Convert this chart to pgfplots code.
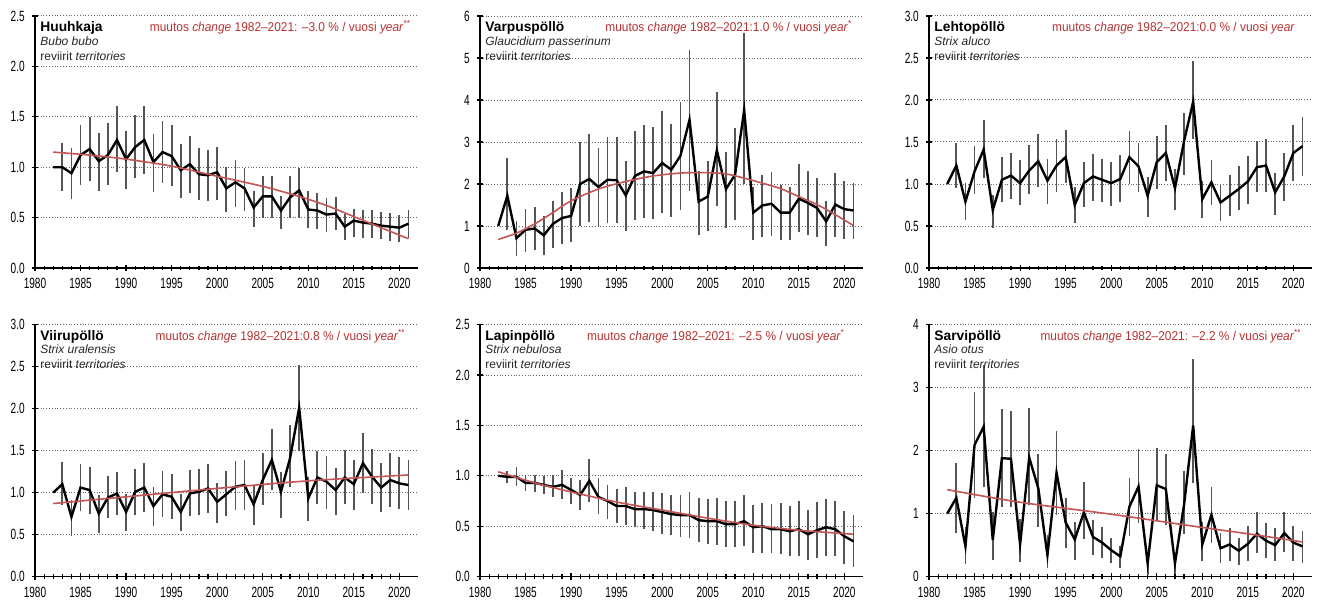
\documentclass[border=0pt]{standalone}
\usepackage{fontspec}
\setmainfont{Liberation Sans}
\newfontfamily\narrow{Liberation Sans}[FakeStretch=0.68]
\newfontfamily\redfont{Liberation Sans}[FakeStretch=0.93]
\usepackage{pgfplots}
\usepackage{pgfplotstable}
\pgfplotsset{compat=1.18}

\definecolor{trend}{RGB}{195,85,85}
\definecolor{redtxt}{RGB}{180,50,50}
\definecolor{ebar}{RGB}{85,85,85}

\pgfplotstableread{
yr v lo hi
1982 1.00 1.00 1.00
1983 1.00 0.76 1.24
1984 0.94 0.68 1.19
1985 1.12 0.82 1.42
1986 1.18 0.86 1.50
1987 1.06 0.76 1.34
1988 1.12 0.82 1.44
1989 1.27 0.95 1.61
1990 1.08 0.78 1.36
1991 1.20 0.89 1.52
1992 1.27 0.93 1.61
1993 1.05 0.75 1.33
1994 1.15 0.84 1.46
1995 1.11 0.81 1.42
1996 0.97 0.69 1.23
1997 1.03 0.74 1.31
1998 0.93 0.67 1.19
1999 0.92 0.66 1.17
2000 0.95 0.67 1.20
2001 0.79 0.56 1.00
2002 0.85 0.61 1.07
2003 0.79 0.57 0.99
2004 0.60 0.41 0.76
2005 0.71 0.50 0.91
2006 0.71 0.50 0.91
2007 0.57 0.39 0.71
2008 0.70 0.50 0.91
2009 0.77 0.50 0.99
2010 0.58 0.40 0.76
2011 0.57 0.39 0.74
2012 0.53 0.36 0.69
2013 0.54 0.38 0.70
2014 0.41 0.28 0.54
2015 0.47 0.31 0.59
2016 0.45 0.30 0.58
2017 0.44 0.30 0.58
2018 0.42 0.29 0.56
2019 0.41 0.27 0.55
2020 0.40 0.26 0.53
2021 0.44 0.30 0.58
}\tH

\pgfplotstableread{
yr v lo hi
1982 1.00 1.00 1.00
1983 1.72 0.91 2.63
1984 0.71 0.28 1.12
1985 0.91 0.37 1.41
1986 0.94 0.42 1.45
1987 0.78 0.32 1.23
1988 1.05 0.48 1.60
1989 1.19 0.57 1.81
1990 1.24 0.62 1.90
1991 2.00 1.01 3.01
1992 2.12 1.09 3.19
1993 1.93 0.99 2.85
1994 2.10 1.07 3.13
1995 2.09 1.07 3.11
1996 1.73 0.87 2.55
1997 2.19 1.15 3.27
1998 2.30 1.19 3.41
1999 2.26 1.17 3.36
2000 2.50 1.31 3.74
2001 2.34 1.21 3.43
2002 2.67 1.39 3.96
2003 3.53 1.84 5.19
2004 1.58 0.79 2.32
2005 1.70 0.87 2.55
2006 2.80 1.48 4.20
2007 1.88 0.95 2.76
2008 2.22 1.15 3.33
2009 3.76 2.00 5.59
2010 1.32 0.66 1.94
2011 1.49 0.74 2.22
2012 1.53 0.77 2.28
2013 1.32 0.66 1.98
2014 1.32 0.66 1.94
2015 1.65 0.85 2.48
2016 1.55 0.79 2.30
2017 1.43 0.73 2.14
2018 1.11 0.53 1.60
2019 1.51 0.75 2.26
2020 1.40 0.70 2.08
2021 1.37 0.69 2.02
}\tV

\pgfplotstableread{
yr v lo hi
1982 1.00 1.00 1.00
1983 1.22 0.95 1.49
1984 0.79 0.57 1.01
1985 1.15 0.88 1.45
1986 1.41 1.07 1.76
1987 0.69 0.48 0.87
1988 1.05 0.78 1.32
1989 1.10 0.82 1.37
1990 1.01 0.75 1.28
1991 1.16 0.88 1.46
1992 1.27 0.97 1.59
1993 1.04 0.76 1.30
1994 1.22 0.91 1.53
1995 1.32 1.01 1.64
1996 0.75 0.54 0.96
1997 1.01 0.73 1.26
1998 1.09 0.80 1.36
1999 1.05 0.78 1.30
2000 1.01 0.74 1.26
2001 1.06 0.79 1.34
2002 1.32 1.00 1.63
2003 1.21 0.90 1.49
2004 0.86 0.61 1.08
2005 1.26 0.94 1.57
2006 1.37 1.03 1.70
2007 0.95 0.69 1.18
2008 1.51 1.11 1.84
2009 1.98 1.53 2.46
2010 0.82 0.59 1.03
2011 1.02 0.75 1.29
2012 0.78 0.56 0.99
2013 0.86 0.62 1.11
2014 0.94 0.69 1.21
2015 1.03 0.76 1.33
2016 1.20 0.90 1.51
2017 1.22 0.91 1.54
2018 0.90 0.63 1.13
2019 1.09 0.80 1.37
2020 1.37 1.03 1.70
2021 1.45 1.10 1.80
}\tL

\pgfplotstableread{
yr v lo hi
1982 1.00 1.00 1.00
1983 1.10 0.85 1.36
1984 0.71 0.48 0.91
1985 1.06 0.78 1.34
1986 1.03 0.75 1.30
1987 0.75 0.52 0.97
1988 0.94 0.70 1.20
1989 0.99 0.73 1.25
1990 0.77 0.54 0.98
1991 1.01 0.73 1.28
1992 1.06 0.77 1.35
1993 0.84 0.60 1.07
1994 0.98 0.71 1.26
1995 0.95 0.69 1.22
1996 0.77 0.54 0.98
1997 0.99 0.72 1.27
1998 1.01 0.73 1.28
1999 1.05 0.76 1.34
2000 0.89 0.64 1.12
2001 0.98 0.72 1.26
2002 1.07 0.79 1.38
2003 1.09 0.79 1.39
2004 0.86 0.62 1.09
2005 1.15 0.85 1.47
2006 1.39 1.03 1.76
2007 1.01 0.70 1.24
2008 1.41 1.07 1.80
2009 2.01 1.49 2.52
2010 0.93 0.66 1.18
2011 1.18 0.87 1.50
2012 1.13 0.81 1.43
2013 1.03 0.73 1.29
2014 1.18 0.87 1.51
2015 1.10 0.79 1.39
2016 1.35 0.99 1.71
2017 1.19 0.86 1.52
2018 1.06 0.77 1.35
2019 1.15 0.83 1.47
2020 1.11 0.81 1.42
2021 1.09 0.79 1.39
}\tU

\pgfplotstableread{
yr v lo hi
1982 1.00 1.00 1.00
1983 0.99 0.93 1.05
1984 0.99 0.90 1.09
1985 0.93 0.85 1.01
1986 0.93 0.84 1.01
1987 0.91 0.82 1.00
1988 0.89 0.79 1.01
1989 0.91 0.77 1.06
1990 0.86 0.72 0.98
1991 0.81 0.66 0.96
1992 0.95 0.74 1.17
1993 0.79 0.62 0.98
1994 0.75 0.57 0.91
1995 0.70 0.53 0.87
1996 0.70 0.51 0.89
1997 0.67 0.49 0.84
1998 0.67 0.47 0.84
1999 0.66 0.45 0.84
2000 0.64 0.42 0.83
2001 0.62 0.41 0.81
2002 0.61 0.39 0.81
2003 0.61 0.38 0.84
2004 0.56 0.34 0.78
2005 0.55 0.32 0.77
2006 0.55 0.31 0.78
2007 0.52 0.29 0.75
2008 0.52 0.29 0.75
2009 0.55 0.30 0.81
2010 0.49 0.23 0.71
2011 0.50 0.23 0.73
2012 0.47 0.23 0.72
2013 0.47 0.22 0.73
2014 0.45 0.20 0.70
2015 0.47 0.20 0.75
2016 0.42 0.16 0.66
2017 0.46 0.18 0.74
2018 0.49 0.20 0.77
2019 0.47 0.20 0.75
2020 0.40 0.13 0.65
2021 0.35 0.10 0.61
}\tN

\pgfplotstableread{
yr v lo hi
1982 1.00 1.00 1.00
1983 1.25 0.70 1.81
1984 0.48 0.20 0.78
1985 2.09 1.25 2.93
1986 2.38 1.43 3.36
1987 0.58 0.26 1.03
1988 1.88 1.11 2.66
1989 1.87 1.10 2.63
1990 0.51 0.23 0.92
1991 1.89 1.14 2.67
1992 1.40 0.78 1.94
1993 0.34 0.13 0.66
1994 1.65 0.97 2.31
1995 0.86 0.46 1.24
1996 0.59 0.26 0.86
1997 1.02 0.60 1.50
1998 0.63 0.34 0.90
1999 0.54 0.29 0.79
2000 0.42 0.21 0.61
2001 0.32 0.13 0.48
2002 1.11 0.64 1.57
2003 1.43 0.85 2.03
2004 0.21 0.03 0.37
2005 1.45 0.88 2.04
2006 1.39 0.82 1.94
2007 0.21 0.04 0.37
2008 1.14 0.67 1.68
2009 2.40 1.48 3.46
2010 0.51 0.24 0.87
2011 0.98 0.54 1.43
2012 0.45 0.21 0.70
2013 0.51 0.24 0.77
2014 0.41 0.18 0.61
2015 0.52 0.24 0.80
2016 0.68 0.37 1.02
2017 0.57 0.30 0.85
2018 0.50 0.25 0.77
2019 0.69 0.39 1.02
2020 0.54 0.24 0.80
2021 0.48 0.21 0.72
}\tS

\pgfplotsset{
  owl/.style={
    scale only axis, width=191.3pt, height=126pt,
    xmin=1980, xmax=2022, ymin=0,
    axis x line*=bottom, axis y line*=left,
    axis line style={-, black, line width=0.8pt},
    xtick={1980,1985,...,2020}, minor x tick num=4,
    ymajorgrids, grid style={densely dotted, black!60, line width=0.5pt},
    major tick length=3.2pt, minor tick length=2.4pt, tick align=center,
    tick style={black, line width=0.6pt},
    ticklabel style={font=\narrow\fontsize{7.4}{8}\selectfont},
    /pgf/number format/assume math mode=true,
    xticklabel style={/pgf/number format/1000 sep={}},
    clip=false,
  },
  dec/.style={yticklabel style={/pgf/number format/.cd, fixed, fixed zerofill, precision=1}},
  ebars/.style={draw=none, mark=none, forget plot,
    error bars/.cd, y dir=both, y explicit, error mark=none,
    error bar style={draw=ebar, solid, line width=0.9pt}},
  mainline/.style={black, line width=1.2pt, mark=none},
  trendline/.style={trend, line width=0.8pt, mark=none, smooth},
}

\newcommand{\owltext}[4]{%
  \node[anchor=base west, inner sep=0, xshift=2.5pt, yshift=-7.8pt,
        font=\bfseries\fontsize{6.9}{8}\selectfont] at (rel axis cs:0,1) {#1};
  \node[anchor=base west, inner sep=0, xshift=2.5pt, yshift=-14.5pt,
        font=\itshape\fontsize{6.0}{7}\selectfont, text=black!85] at (rel axis cs:0,1) {#2};
  \node[anchor=base west, inner sep=0, xshift=2.5pt, yshift=-22pt,
        font=\fontsize{6.0}{7}\selectfont, text=black!85] at (rel axis cs:0,1) {reviirit \textit{territories}};
  \node[anchor=base east, inner sep=0, yshift=-7.8pt,
        font=\redfont\fontsize{6.4}{7}\selectfont, text=redtxt] at (rel axis cs:#4,1) {#3};
}

\newcommand{\errplot}[1]{%
  \addplot[ebars] table[x=yr, y=v,
     y error plus expr=\thisrow{hi}-\thisrow{v},
     y error minus expr=\thisrow{v}-\thisrow{lo}] {#1};
  \addplot[mainline] table[x=yr, y=v] {#1};
}

\begin{document}
\begin{tikzpicture}
\useasboundingbox (0,0) rectangle (661.5pt,300.5pt);

% ---- Huuhkaja
\begin{axis}[owl, dec, at={(17.5pt,166.5pt)}, anchor=south west,
  ymax=2.5, ytick={0,0.5,...,2.5}]
\errplot{\tH}
\addplot[trendline] coordinates {(1982,1.15)(1986,1.12)(1990,1.08)(1995,1.01)(2000,0.91)(2005,0.81)(2009,0.71)(2012,0.62)(2015,0.51)(2018,0.40)(2021,0.29)};
\owltext{Huuhkaja}{Bubo bubo}{muutos \textit{change} 1982–2021: –3.0 \% / vuosi \textit{year}\textsuperscript{**}}{0.984}
\end{axis}

% ---- Varpuspöllö
\begin{axis}[owl, at={(240pt,166.5pt)}, anchor=south west,
  ymax=6, ytick={0,1,...,6}]
\errplot{\tV}
\addplot[trendline] coordinates {(1982,0.68)(1984,0.83)(1986,1.05)(1988,1.32)(1990,1.60)(1993,1.88)(1996,2.06)(1999,2.19)(2002,2.26)(2005,2.27)(2007,2.24)(2009,2.14)(2011,2.02)(2013,1.89)(2015,1.70)(2017,1.51)(2019,1.27)(2021,1.01)};
\owltext{Varpuspöllö}{Glaucidium passerinum}{muutos \textit{change} 1982–2021:1.0 \% / vuosi \textit{year}\textsuperscript{*}}{0.974}
\end{axis}

% ---- Lehtopöllö
\begin{axis}[owl, dec, at={(464.5pt,166.5pt)}, anchor=south west,
  ymax=3, ytick={0,0.5,...,3}]
\errplot{\tL}
\owltext{Lehtopöllö}{Strix aluco}{muutos \textit{change} 1982–2021:0.0 \% / vuosi \textit{year}}{0.957}
\end{axis}

% ---- Viirupöllö
\begin{axis}[owl, dec, at={(17.5pt,12.2pt)}, anchor=south west,
  ymax=3, ytick={0,0.5,...,3}]
\errplot{\tU}
\addplot[trendline] coordinates {(1982,0.87)(1990,0.95)(2000,1.05)(2010,1.14)(2021,1.21)};
\owltext{Viirupöllö}{Strix uralensis}{muutos \textit{change} 1982–2021:0.8 \% / vuosi \textit{year}\textsuperscript{**}}{0.97}
\end{axis}

% ---- Lapinpöllö
\begin{axis}[owl, dec, at={(240pt,12.2pt)}, anchor=south west,
  ymax=2.5, ytick={0,0.5,...,2.5}]
\errplot{\tN}
\addplot[trendline] coordinates {(1982,1.04)(1986,0.93)(1990,0.84)(1995,0.74)(2000,0.66)(2005,0.58)(2010,0.51)(2015,0.46)(2021,0.42)};
\owltext{Lapinpöllö}{Strix nebulosa}{muutos \textit{change} 1982–2021: –2.5 \% / vuosi \textit{year}\textsuperscript{*}}{0.955}
\end{axis}

% ---- Sarvipöllö
\begin{axis}[owl, at={(464.5pt,12.2pt)}, anchor=south west,
  ymax=4, ytick={0,1,...,4}]
\errplot{\tS}
\addplot[trendline] coordinates {(1982,1.38)(1990,1.18)(2000,0.99)(2010,0.78)(2015,0.68)(2021,0.55)};
\owltext{Sarvipöllö}{Asio otus}{muutos \textit{change} 1982–2021: –2.2 \% / vuosi \textit{year}\textsuperscript{**}}{0.975}
\end{axis}
\end{tikzpicture}
\end{document}
